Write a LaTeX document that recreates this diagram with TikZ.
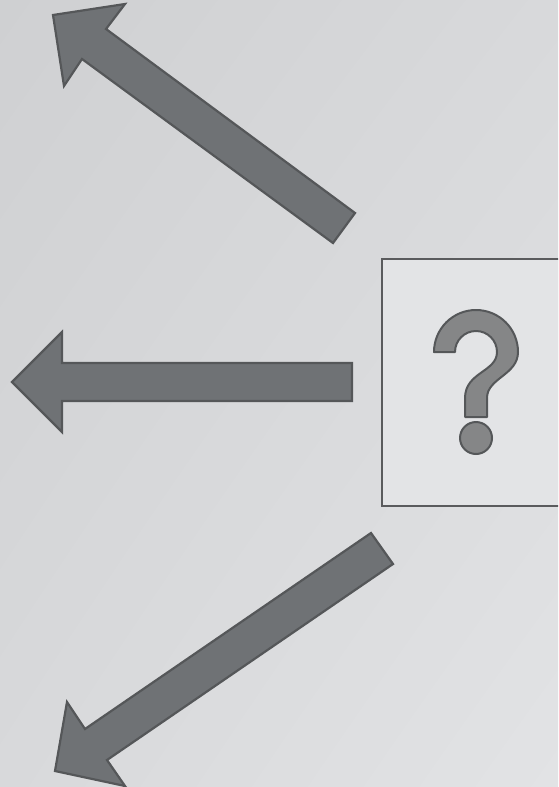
\documentclass[tikz,border=0pt]{standalone}
\usepackage{tikz}
\usetikzlibrary{shadings}
\definecolor{bgA}{HTML}{CFD0D2}
\definecolor{bgM}{HTML}{D8D9DB}
\definecolor{bgB}{HTML}{E2E3E5}
\definecolor{arrowfill}{HTML}{6F7275}
\definecolor{arrowline}{HTML}{555759}
\definecolor{qfill}{HTML}{858687}
\definecolor{boxfill}{HTML}{E3E4E6}
\definecolor{boxline}{HTML}{5A5B5D}
\tikzset{
  bigarrow/.style={fill=arrowfill, draw=arrowline, line width=2.2pt, line join=miter},
  qbox/.style={fill=boxfill, draw=boxline, line width=2.4pt},
  qmark/.style={fill=qfill, draw=arrowline, line width=2pt, line join=round}
}
\begin{document}
\begin{tikzpicture}[x=1pt,y=-1pt]
\useasboundingbox (0,0) rectangle (558,787);
\shade[upper left=bgA, upper right=bgM, lower left=bgM, lower right=bgB] (0,0) rectangle (558,787);
\clip (0,0) rectangle (558,787);
% top arrow
\draw[bigarrow] (355,213) -- (333,243) -- (82,59) -- (64,86) -- (53,15) -- (125,4) -- (106,29) -- cycle;
% middle arrow
\draw[bigarrow] (352,363) -- (352,401) -- (62,401) -- (62,432) -- (12,382) -- (62,332) -- (62,363) -- cycle;
% bottom arrow
\draw[bigarrow] (371,533) -- (393,564) -- (107,760) -- (125,786) -- (55,771) -- (67,702) -- (85,729) -- cycle;
% box
\node[qbox, minimum width=200pt, minimum height=247pt, anchor=north west, inner sep=0pt] (box) at (381,258) {};
% question mark
\draw[qmark] (434,352) arc[start angle=180, end angle=360, radius=42]
  .. controls (518,375) and (487,378) .. (487,398) -- (487,417) -- (465,417) -- (465,398)
  .. controls (465,372) and (497,372) .. (497,352)
  arc[start angle=360, end angle=180, radius=21] -- cycle;
\draw[qmark] (476,438) circle[radius=16];
\end{tikzpicture}
\end{document}
